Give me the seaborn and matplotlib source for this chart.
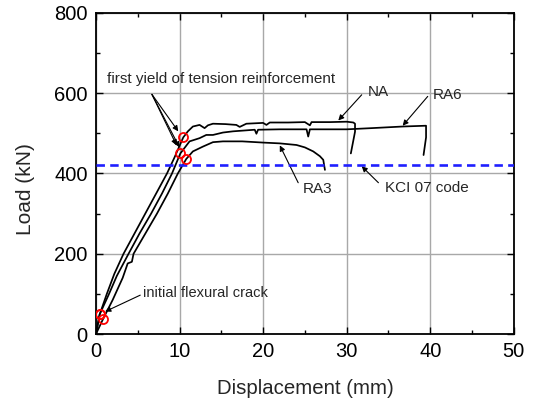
import matplotlib
matplotlib.use("Agg")
import matplotlib.pyplot as plt
import seaborn as sns
import pandas as pd

# ---- data ----
na_disp = [0, 0.45, 1.3, 2.2, 3.3, 4.6, 5.9, 7.2, 8.5, 9.4, 10.45, 11.0, 11.6, 12.4, 13.0, 13.4, 14.0,
           15.5, 16.8, 17.2, 18.0, 20.0, 20.4, 20.8, 23.0, 25.0, 25.6, 25.8, 26.2, 28.0, 30.0, 30.8,
           31.0, 31.0, 30.5]
na_load = [0, 49, 100, 150, 200, 250, 300, 350, 400, 440, 490, 505, 517, 521, 513, 520, 524,
           523, 521, 516, 524, 526, 521, 527, 527, 528, 520, 528, 528, 528, 529, 527,
           524, 504, 450]

ra6_disp = [0, 0.44, 1.5, 2.5, 3.9, 5.2, 6.6, 7.9, 9.1, 10.1, 11.2, 12.4, 13.2, 14.0, 15.2, 16.4,
            19.0, 19.2, 19.4, 22.0, 25.2, 25.4, 25.6, 29.2, 30.0, 33.0, 36.7, 39.5, 39.5, 39.2]
ra6_load = [0, 49, 97, 145, 200, 250, 300, 350, 400, 450, 480, 488, 496, 496, 502, 505,
            509, 499, 509, 510, 510, 492, 510, 510, 510, 513, 517, 519, 490, 446]

ra3_disp = [0, 0.84, 2.0, 3.2, 3.8, 4.3, 4.5, 5.9, 7.3, 8.6, 9.8, 10.8, 11.6, 12.8, 14.0, 15.2, 17.5,
            20.0, 22.0, 24.0, 25.0, 26.0, 26.8, 27.2, 27.4]
ra3_load = [0, 37, 85, 140, 176, 180, 200, 250, 300, 350, 400, 436, 455, 467, 478, 480, 480,
            477, 475, 471, 465, 455, 443, 434, 409]

crack_disp = [0.45, 0.44, 0.84]
crack_load = [49, 51, 37]
yield_disp = [10.45, 10.1, 10.8]
yield_load = [490, 450, 436]

code_load = 420
x_ticks = [0, 10, 20, 30, 40, 50]
y_ticks = [0, 200, 400, 600, 800]

# ---- style ----
sns.set_style("ticks")
plt.rcParams['font.family'] = ['Liberation Sans', 'DejaVu Sans']

fig = plt.figure(figsize=(5.33, 4.03), dpi=100)
ax = fig.add_axes([0.180, 0.171, 0.784, 0.797])

for d, l in [(na_disp, na_load), (ra6_disp, ra6_load), (ra3_disp, ra3_load)]:
    df = pd.DataFrame({"Displacement": d, "Load": l})
    sns.lineplot(data=df, x="Displacement", y="Load", sort=False, estimator=None,
                 color="black", lw=1.25, ax=ax, zorder=3)

ax.axhline(code_load, color="#1f1fff", lw=1.9, dashes=(3.2, 2.0), zorder=4)

ax.plot(crack_disp, crack_load, ls="none", marker="o", mfc="none", mec="red",
        ms=6.5, mew=1.3, zorder=5)
ax.plot(yield_disp, yield_load, ls="none", marker="o", mfc="none", mec="red",
        ms=6.5, mew=1.3, zorder=5)

ax.set_xlim(0, 50)
ax.set_ylim(0, 800)
ax.set_xticks(x_ticks)
ax.set_yticks(y_ticks)
ax.set_xticks([5, 15, 25, 35, 45], minor=True)
ax.set_yticks([100, 300, 500, 700], minor=True)
ax.grid(True, which="major", color="#a8a8a8", lw=1.0)
ax.set_axisbelow(True)
for s in ax.spines.values():
    s.set_visible(True)
    s.set_linewidth(1.3)
    s.set_color("black")
ax.tick_params(which="both", direction="in", top=True, right=True, labelsize=14.5,
               colors="black", width=1.0)
ax.tick_params(which="major", length=5, pad=6)
ax.tick_params(which="minor", length=3)
ax.set_xlabel("Displacement (mm)", fontsize=14.7, labelpad=13)
ax.set_ylabel("Load (kN)", fontsize=15)
ax.yaxis.set_label_coords(-0.146, 0.452)

fs = 11
ap = dict(arrowstyle="-|>", color="black", lw=0.8, mutation_scale=8, shrinkA=0, shrinkB=0)

ax.text(1.3, 635, "first yield of tension reinforcement", fontsize=fs, ha="left", va="center")
for end in [(9.85, 505), (9.65, 470), (10.0, 465)]:
    ax.annotate("", xy=end, xytext=(6.7, 597), arrowprops=ap)

ax.text(32.5, 603, "NA", fontsize=fs, ha="left", va="center")
ax.annotate("", xy=(29.0, 532), xytext=(31.8, 596), arrowprops=ap)

ax.text(40.3, 596, "RA6", fontsize=fs, ha="left", va="center")
ax.annotate("", xy=(36.7, 519), xytext=(39.7, 592), arrowprops=ap)

ax.text(24.8, 361, "RA3", fontsize=fs, ha="left", va="center")
ax.annotate("", xy=(22.0, 470), xytext=(24.2, 377), arrowprops=ap)

ax.text(34.6, 363, "KCI 07 code", fontsize=fs, ha="left", va="center")
ax.annotate("", xy=(31.8, 418), xytext=(33.8, 377), arrowprops=ap)

ax.text(5.6, 103, "initial flexural crack", fontsize=fs - 0.5, ha="left", va="center")
ax.annotate("", xy=(1.1, 56), xytext=(5.3, 97), arrowprops=ap)

fig.savefig("out.png", dpi=100)
